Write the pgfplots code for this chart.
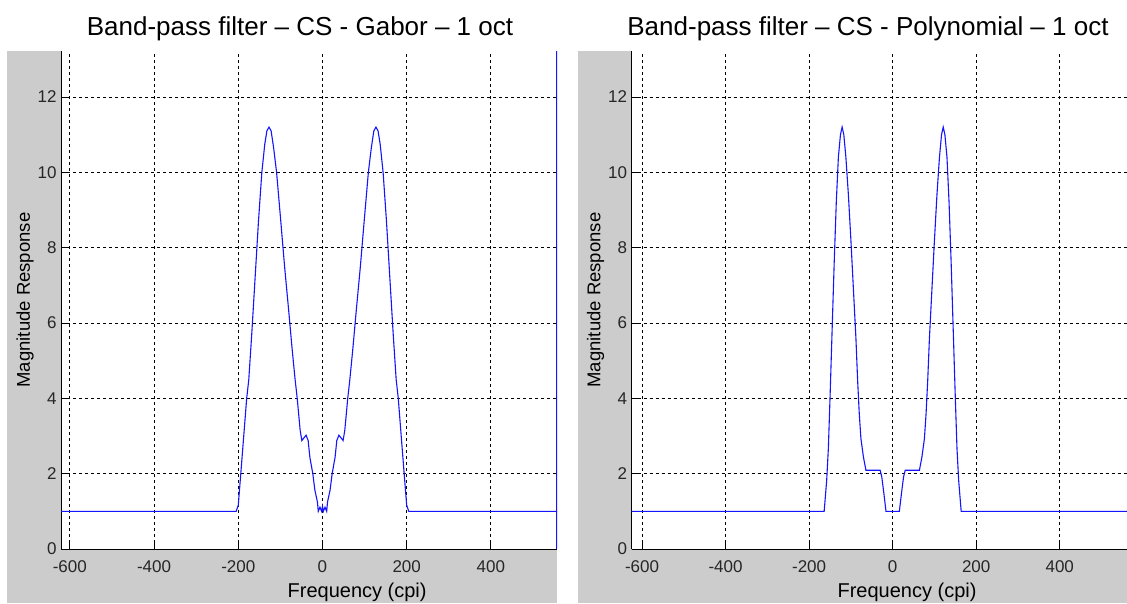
\documentclass[border=0pt]{standalone}
\usepackage{fontspec}
\setmainfont{Liberation Sans}
\usepackage{pgfplots}
\pgfplotsset{compat=1.18}
\usepackage{pgfplotstable}
\definecolor{panelgrey}{RGB}{204,204,204}
\definecolor{curveblue}{RGB}{20,20,255}

\pgfplotstableread{
x y
-640 1
-205 1
-200 1.16
-194 2
-187 3
-180 4
-175 4.5
-168 5.7
-160 7.2
-152 8.7
-144 10
-137 10.75
-132 11.1
-127 11.2
-122 11.1
-116 10.65
-109 10
-99 8.7
-90 7.5
-80 6.3
-72 5.3
-65 4.5
-60 4.0
-53 3.15
-49 2.88
-44 2.95
-39 3.02
-34 2.88
-30 2.44
-23 2.0
-18 1.56
-12 1.25
-10 1.0
-6 1.11
-2 1.0
0 1.13
2 1.0
6 1.11
10 1.0
12 1.25
18 1.56
23 2.0
30 2.44
34 2.88
39 3.02
44 2.95
49 2.88
53 3.15
60 4.0
65 4.5
72 5.3
80 6.3
90 7.5
99 8.7
109 10
116 10.65
122 11.1
127 11.2
132 11.1
137 10.75
144 10
152 8.7
160 7.2
168 5.7
175 4.5
180 4
187 3
194 2
200 1.16
205 1
640 1
}\gabor

\pgfplotstableread{
x y
-640 1
-164 1
-158 1.82
-154 2.66
-150 4.0
-145 5.8
-140 7.6
-135 9.2
-130 10.4
-125 11.0
-121 11.2
-117 11.0
-112 10.4
-106 9.4
-100 8.2
-94 6.9
-88 5.6
-84 4.5
-80 3.6
-76 2.93
-70 2.44
-64 2.09
-30 2.09
-26 1.91
-21 1.47
-16 1.0
16 1.0
21 1.47
26 1.91
30 2.09
64 2.09
70 2.44
76 2.93
80 3.6
84 4.5
88 5.6
94 6.9
100 8.2
106 9.4
112 10.4
117 11.0
121 11.2
125 11.0
130 10.4
135 9.2
140 7.6
145 5.8
150 4.0
154 2.66
158 1.82
164 1
640 1
}\poly

\pgfplotsset{
  panel/.style={
    scale only axis,
    anchor=south west,
    height=498pt,
    ymin=0, ymax=13.22,
    axis x line*=bottom,
    axis y line*=left,
    axis line style={-, black, line width=0.9pt},
    axis background/.style={fill=white},
    xtick={-600,-400,-200,0,200,400},
    xticklabels={-600,-400,-200,0,200,400},
    ytick={0,2,4,6,8,10,12},
    yticklabels={0,2,4,6,8,10,12},
    tick align=inside,
    major tick length=7pt,
    tick style={black, line width=0.9pt},
    grid=major,
    grid style={black, line width=0.8pt, dash pattern=on 3pt off 3pt},
    ticklabel style={font=\fontsize{17}{20}\selectfont, text=black!85},
    xticklabel style={yshift=-8pt},
    yticklabel style={xshift=-1pt},
    xlabel={Frequency (cpi)},
    ylabel={Magnitude Response},
    xlabel style={font=\fontsize{20}{24}\selectfont, anchor=north, yshift=-34pt, inner sep=0pt},
    ylabel style={font=\fontsize{18.5}{22}\selectfont, anchor=center, inner sep=0pt},
    clip=true,
  }
}

\begin{document}
\begin{tikzpicture}
\useasboundingbox (0,0) rectangle (1127pt,603pt);
\clip (0,0) rectangle (1127pt,603pt);
\fill[white] (0,0) rectangle (1127pt,603pt);
\fill[panelgrey] (7pt,0) rectangle (557pt,552pt);
\fill[panelgrey] (578pt,0) rectangle (1127pt,552pt);
\node[anchor=base, font=\fontsize{26}{30}\selectfont] at (300pt,567.5pt) {Band-pass filter – CS - Gabor – 1 oct};
\node[anchor=base, font=\fontsize{26}{30}\selectfont] at (868pt,567.5pt) {Band-pass filter – CS - Polynomial – 1 oct};

\begin{axis}[panel, at={(61pt,54pt)}, width=496pt, xmin=-621, xmax=557,
  xlabel style={at={(axis description cs:0.597,0)}},
  ylabel style={at={(axis description cs:-0.0726,0.5)}}]
\addplot[curveblue, line width=1.1pt] table[x=x,y=y] {\gabor};
\draw[curveblue, line width=1.3pt] (axis cs:557,0) -- (axis cs:557,13.22);
\end{axis}

\begin{axis}[panel, at={(631.6pt,54pt)}, width=495.4pt, xmin=-625, xmax=561,
  xlabel style={at={(axis description cs:0.556,0)}},
  ylabel style={at={(axis description cs:-0.0727,0.5)}}]
\addplot[curveblue, line width=1.1pt] table[x=x,y=y] {\poly};
\end{axis}
\end{tikzpicture}
\end{document}
